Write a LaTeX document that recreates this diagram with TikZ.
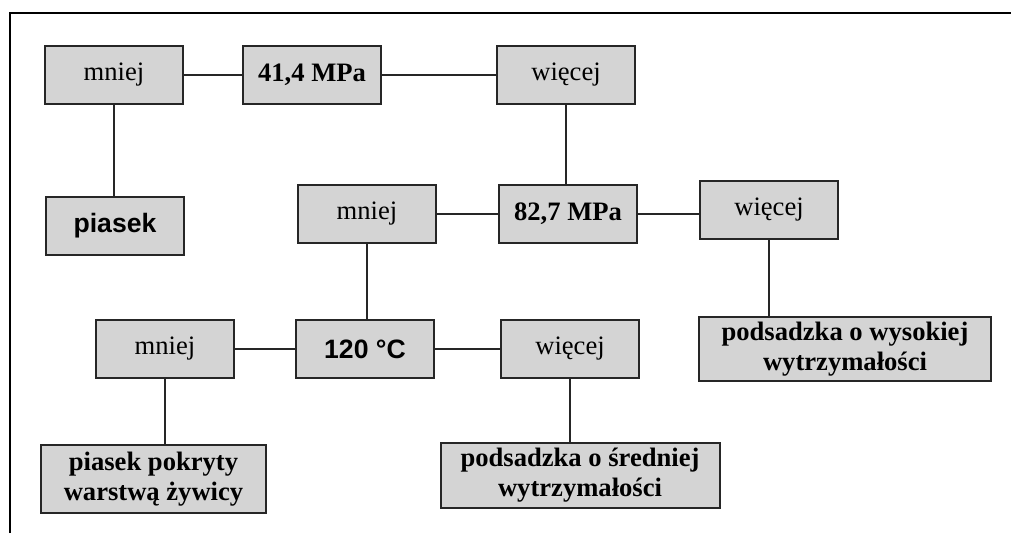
\documentclass[tikz,border=0pt]{standalone}
\usepackage{fontspec}
\setmainfont{Liberation Serif}
\newfontfamily\arialfont{Liberation Sans}

\begin{document}
\begin{tikzpicture}[x=1pt, y=-1pt,
    every node/.style={font=\fontsize{26.6}{30}\selectfont},
    box/.style={draw=black!85, line width=2pt, fill=black!17, minimum width=138pt,
        minimum height=58pt, inner sep=0pt, align=center},
    boldtxt/.style={font=\fontsize{26.6}{30}\selectfont\bfseries},
    sanstxt/.style={font=\fontsize{26.6}{30}\selectfont\arialfont\bfseries},
    link/.style={draw=black!85, line width=1.5pt}]
    \useasboundingbox (0,0) rectangle (1011,533);

    % Frame
    \draw[line width=2.2pt] (10,533) -- (10,13) -- (1011,13);

    % Row 1: 41,4 MPa
    \node[box] (mniejA) at (114,75) {mniej};
    \node[box,boldtxt] (mpaA) at (312,75) {41,4 MPa};
    \node[box] (wiecejA) at (566,75) {więcej};
    \node[box,sanstxt] (piasek) at (115,226) {piasek};

    % Row 2: 82,7 MPa
    \node[box] (mniejB) at (367,214) {mniej};
    \node[box,boldtxt] (mpaB) at (568,214) {82,7 MPa};
    \node[box] (wiecejB) at (769,210) {więcej};

    % Row 3: 120 C
    \node[box] (mniejC) at (165,349) {mniej};
    \node[box,sanstxt] (temp) at (365,349) {120 °C};
    \node[box] (wiecejC) at (570,349) {więcej};
    \node[box,boldtxt,minimum width=292pt,minimum height=64pt] (wysoka) at (845,349)
        {podsadzka o wysokiej\\wytrzymałości};

    % Row 4
    \node[box,boldtxt,minimum width=225pt,minimum height=68pt] (zywica) at (153.5,479)
        {piasek pokryty\\warstwą żywicy};
    \node[box,boldtxt,minimum width=279pt,minimum height=65pt] (srednia) at (580,475.5)
        {podsadzka o średniej\\wytrzymałości};

    % Connectors
    \draw[link] (mniejA) -- (mpaA);
    \draw[link] (mpaA) -- (wiecejA);
    \draw[link] (mniejA.south) -- (mniejA.south |- piasek.north);
    \draw[link] (wiecejA.south) -- (wiecejA.south |- mpaB.north);
    \draw[link] (mniejB) -- (mpaB);
    \draw[link] (mpaB.east) -- (mpaB.east -| wiecejB.west);
    \draw[link] (wiecejB.south) -- (wiecejB.south |- wysoka.north);
    \draw[link] (mniejB.south) -- (mniejB.south |- temp.north);
    \draw[link] (mniejC) -- (temp);
    \draw[link] (temp) -- (wiecejC);
    \draw[link] (mniejC.south) -- (mniejC.south |- zywica.north);
    \draw[link] (wiecejC.south) -- (wiecejC.south |- srednia.north);
\end{tikzpicture}
\end{document}
